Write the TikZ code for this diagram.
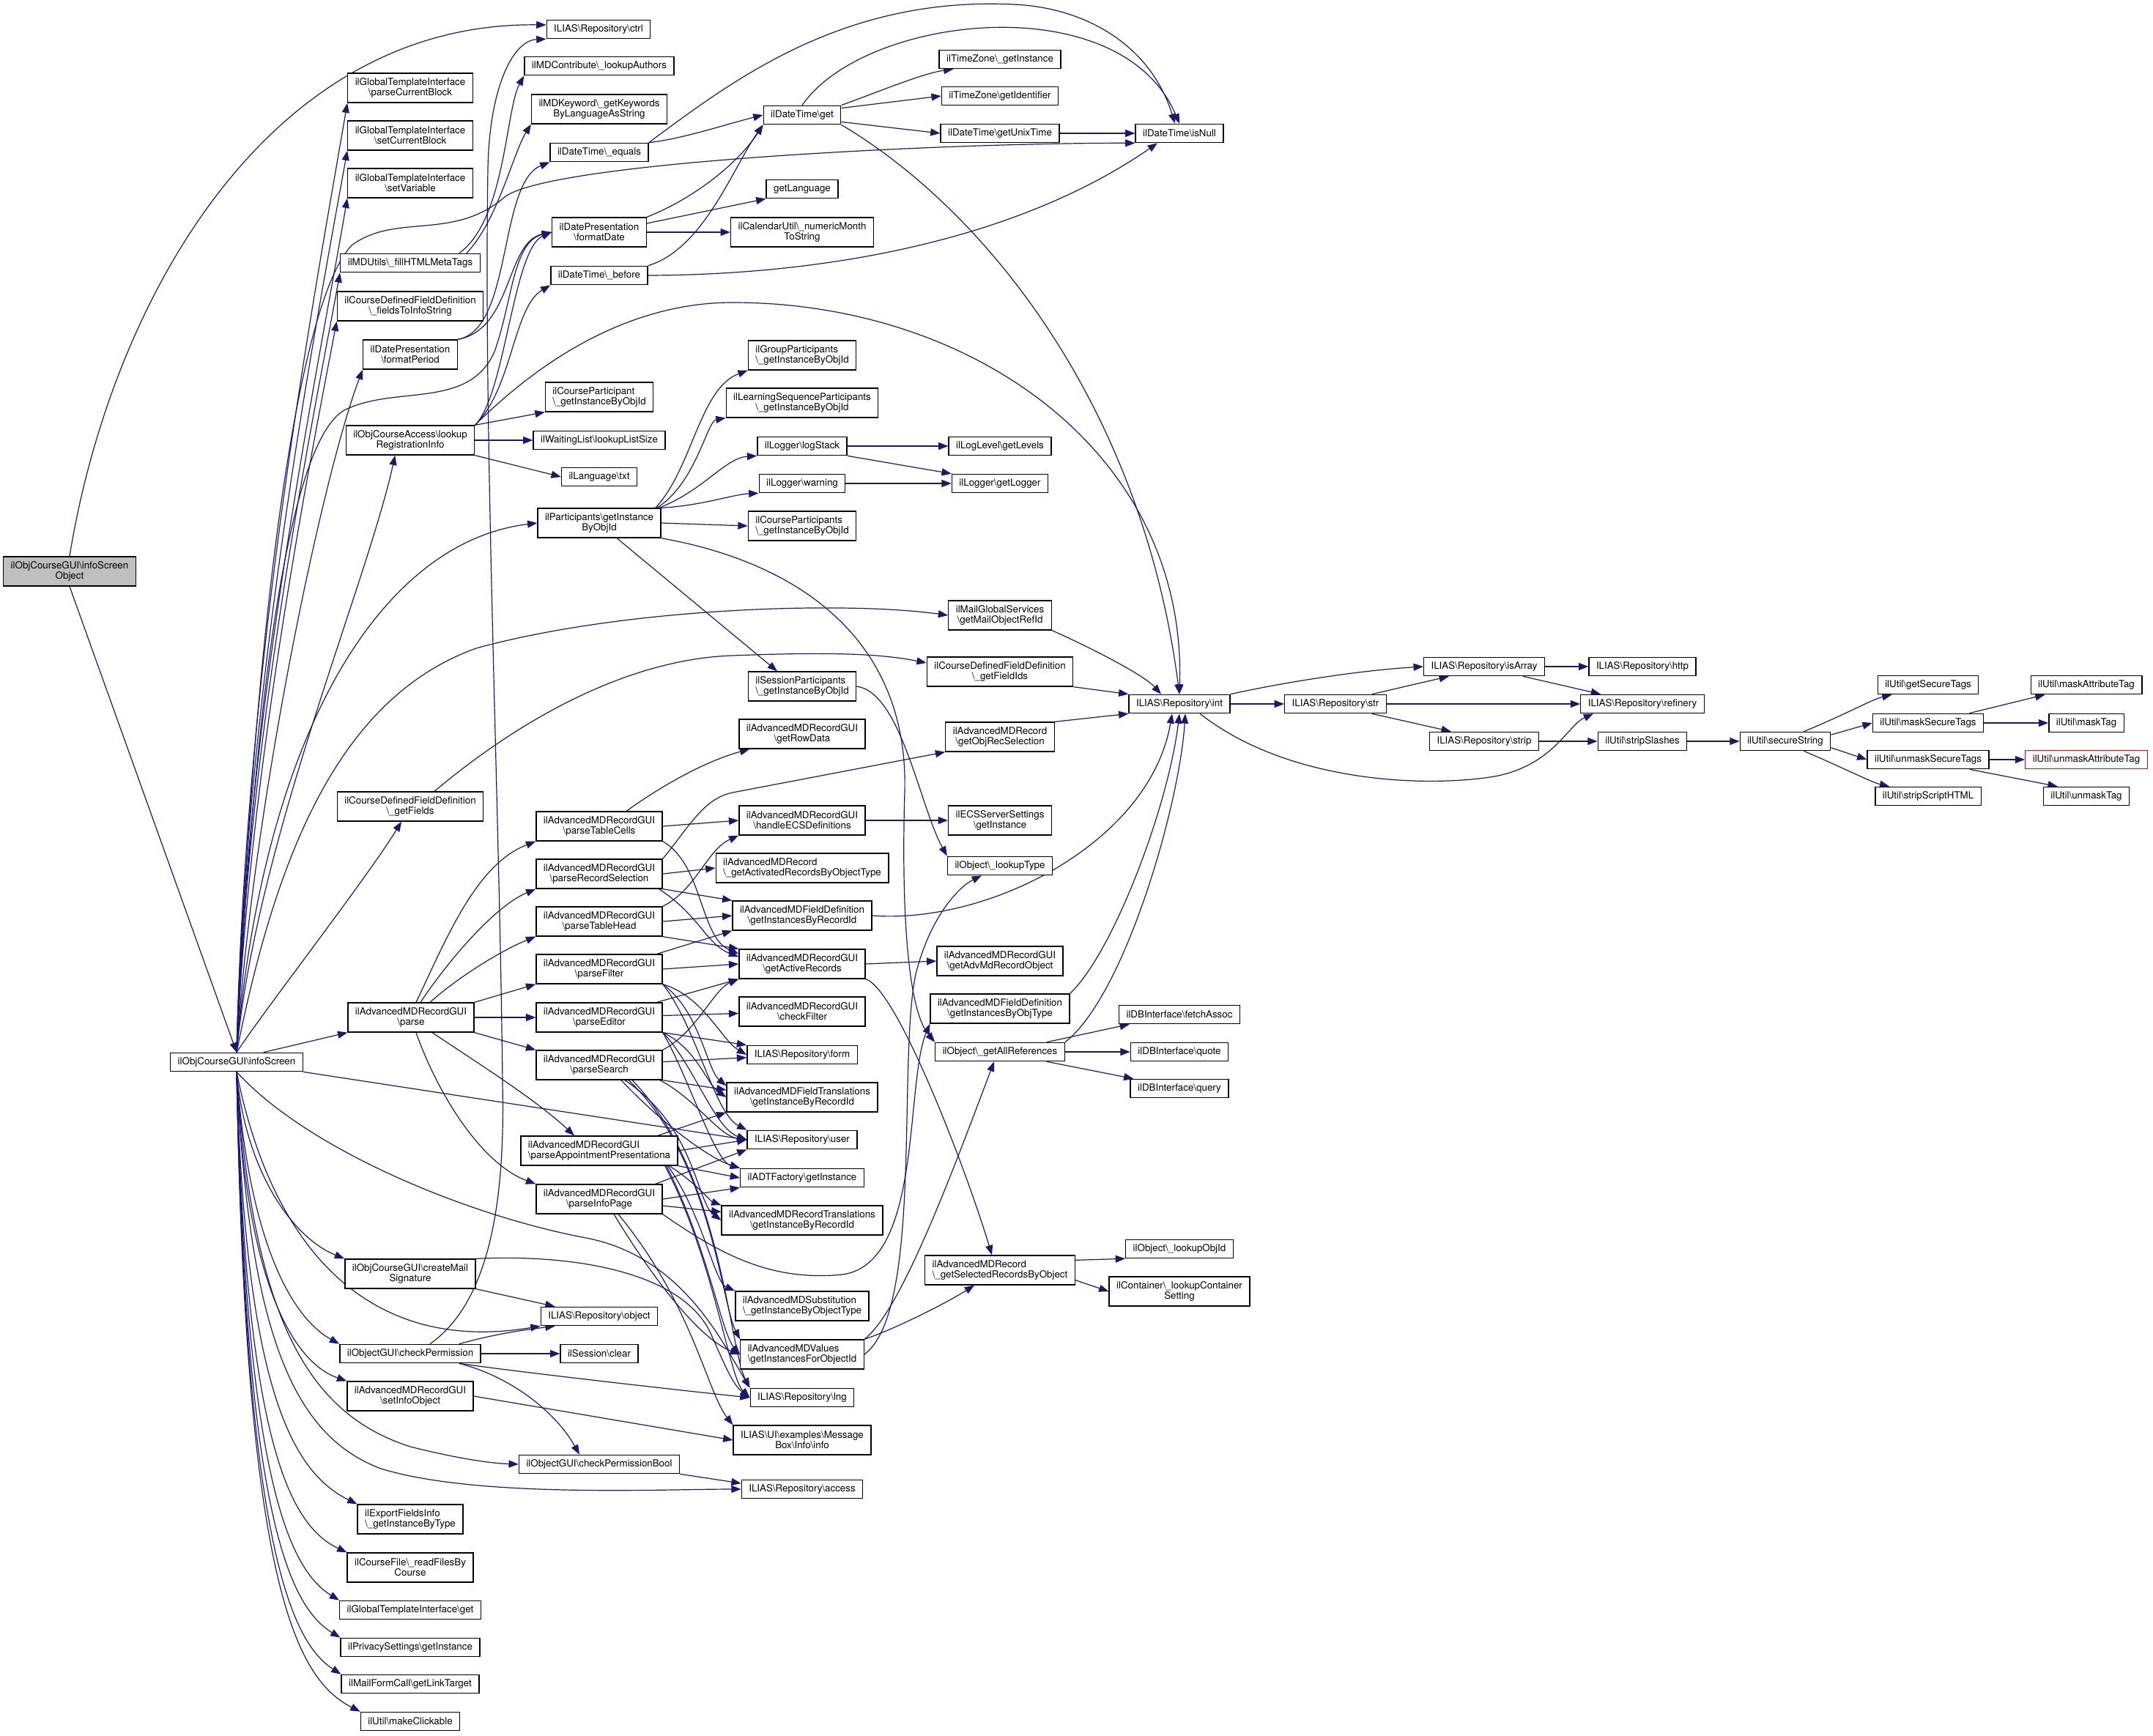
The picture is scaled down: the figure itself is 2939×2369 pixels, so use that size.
\documentclass[tikz,border=0pt]{standalone}
\usepackage{fontspec}
\setmainfont{TeX Gyre Heros}
\usetikzlibrary{arrows.meta,calc}
\newcommand{\bsl}{\textbackslash}
\definecolor{edgeblue}{HTML}{191970}
\definecolor{nodegrey}{HTML}{BFBFBF}
\pgfdeclarelayer{bg}
\pgfsetlayers{bg,main}
\tikzset{
 fn/.style={draw=black, line width=1pt, fill=white, font=\fontsize{10}{10.5}\selectfont, inner xsep=7.5pt, inner ysep=1pt, minimum height=19pt, align=center},
 fn2/.style={fn, minimum height=30pt},
 fnl/.style={fn2, align=left},
 e/.style={draw=edgeblue, line width=0.9pt, -{Triangle[length=10pt,width=7.5pt]}},
}
\begin{document}
\begin{tikzpicture}[x=0.75pt,y=-0.75pt]
\useasboundingbox (0,0) rectangle (2939,2369);
% ---------------- nodes ----------------
\node[fn2,fill=nodegrey] (A) at (95,780) {ilObjCourseGUI\bsl infoScreen\\Object};
\node[fn] (B) at (323,1450) {ilObjCourseGUI\bsl infoScreen};
\node[fn] (ctrl) at (817,40) {ILIAS\bsl Repository\bsl ctrl};
\node[fn] (mdc) at (818,90) {ilMDContribute\bsl\_lookupAuthors};
\node[fn2] (gpc) at (560,120) {ilGlobalTemplateInterface\\\bsl parseCurrentBlock};
\node[fn2] (gsc) at (560,185) {ilGlobalTemplateInterface\\\bsl setCurrentBlock};
\node[fn2] (gsv) at (560,250) {ilGlobalTemplateInterface\\\bsl setVariable};
\node[fn2] (mdk) at (818,149) {ilMDKeyword\bsl\_getKeywords\\ByLanguageAsString};
\node[fn] (dteq) at (818,208) {ilDateTime\bsl\_equals};
\node[fn2] (fd) at (818,317) {ilDatePresentation\\\bsl formatDate};
\node[fn] (dtb) at (818,376) {ilDateTime\bsl\_before};
\node[fn] (mdu) at (560,359) {ilMDUtils\bsl\_fillHTMLMetaTags};
\node[fn2] (fts) at (560,418) {ilCourseDefinedFieldDefinition\\\bsl\_fieldsToInfoString};
\node[fn2] (fp) at (560,484) {ilDatePresentation\\\bsl formatPeriod};
\node[fnl] (cp1) at (818,542) {ilCourseParticipant\\\bsl\_getInstanceByObjId};
\node[fn2] (lri) at (560,601) {ilObjCourseAccess\bsl lookup\\RegistrationInfo};
\node[fn] (wl) at (818,601) {ilWaitingList\bsl lookupListSize};
\node[fn] (lt) at (818,651) {ilLanguage\bsl txt};
\node[fn2] (pgi) at (818,714) {ilParticipants\bsl getInstance\\ByObjId};
\node[fn] (dtg) at (1095,157) {ilDateTime\bsl get};
\node[fn] (tzi) at (1365,81) {ilTimeZone\bsl\_getInstance};
\node[fn] (tzid) at (1365,131) {ilTimeZone\bsl getIdentifier};
\node[fn] (ut) at (1365,182) {ilDateTime\bsl getUnixTime};
\node[fn] (isn) at (1610,182) {ilDateTime\bsl isNull};
\node[fn] (gl) at (1095,258) {getLanguage};
\node[fn2] (cu) at (1095,317) {ilCalendarUtil\bsl\_numericMonth\\ToString};
\node[fnl] (grp) at (1095,485) {ilGroupParticipants\\\bsl\_getInstanceByObjId};
\node[fn2] (lsp) at (1095,550) {ilLearningSequenceParticipants\\\bsl\_getInstanceByObjId};
\node[fn] (ls) at (1095,609) {ilLogger\bsl logStack};
\node[fn] (llv) at (1365,609) {ilLogLevel\bsl getLevels};
\node[fn] (lw) at (1095,660) {ilLogger\bsl warning};
\node[fn] (lg) at (1365,660) {ilLogger\bsl getLogger};
\node[fnl] (csp) at (1095,718) {ilCourseParticipants\\\bsl\_getInstanceByObjId};
\node[fn2] (mgs) at (1365,840) {ilMailGlobalServices\\\bsl getMailObjectRefId};
\node[fnl] (ssp) at (1095,937) {ilSessionParticipants\\\bsl\_getInstanceByObjId};
\node[fn2] (gfi) at (1365,917) {ilCourseDefinedFieldDefinition\\\bsl\_getFieldIds};
\node[fn] (int) at (1610,961) {ILIAS\bsl Repository\bsl int};
\node[fn] (str) at (1823,961) {ILIAS\bsl Repository\bsl str};
\node[fn] (isa) at (2026,910) {ILIAS\bsl Repository\bsl isArray};
\node[fn] (http) at (2242,910) {ILIAS\bsl Repository\bsl http};
\node[fn] (ref) at (2242,961) {ILIAS\bsl Repository\bsl refinery};
\node[fn] (strip) at (2026,1012) {ILIAS\bsl Repository\bsl strip};
\node[fn] (ss) at (2242,1012) {ilUtil\bsl stripSlashes};
\node[fn] (sec) at (2437,1012) {ilUtil\bsl secureString};
\node[fn] (gst) at (2632,935) {ilUtil\bsl getSecureTags};
\node[fn] (mst) at (2632,987) {ilUtil\bsl maskSecureTags};
\node[fn] (ust) at (2632,1037) {ilUtil\bsl unmaskSecureTags};
\node[fn] (ssh) at (2632,1087) {ilUtil\bsl stripScriptHTML};
\node[fn] (mat) at (2848,935) {ilUtil\bsl maskAttributeTag};
\node[fn] (mt) at (2848,987) {ilUtil\bsl maskTag};
\node[fn,draw=red] (uat) at (2848,1037) {ilUtil\bsl unmaskAttributeTag};
\node[fn] (umt) at (2848,1087) {ilUtil\bsl unmaskTag};
\node[fn2] (grd) at (1095,1002) {ilAdvancedMDRecordGUI\\\bsl getRowData};
\node[fn2] (gors) at (1365,1006) {ilAdvancedMDRecord\\\bsl getObjRecSelection};
\node[fn2] (ptc) at (818,1128) {ilAdvancedMDRecordGUI\\\bsl parseTableCells};
\node[fn2] (hecs) at (1095,1120) {ilAdvancedMDRecordGUI\\\bsl handleECSDefinitions};
\node[fn2] (ecs) at (1365,1120) {ilECSServerSettings\\\bsl getInstance};
\node[fnl] (gar) at (1095,1185) {ilAdvancedMDRecord\\\bsl\_getActivatedRecordsByObjectType};
\node[fn] (lty) at (1365,1182) {ilObject\bsl\_lookupType};
\node[fn2] (prs) at (818,1193) {ilAdvancedMDRecordGUI\\\bsl parseRecordSelection};
\node[fn2] (gfields) at (560,1101) {ilCourseDefinedFieldDefinition\\\bsl\_getFields};
\node[fn2] (fdr) at (1095,1250) {ilAdvancedMDFieldDefinition\\\bsl getInstancesByRecordId};
\node[fn2] (pth) at (818,1258) {ilAdvancedMDRecordGUI\\\bsl parseTableHead};
\node[fn2] (gac) at (1095,1316) {ilAdvancedMDRecordGUI\\\bsl getActiveRecords};
\node[fn2] (gamro) at (1365,1312) {ilAdvancedMDRecordGUI\\\bsl getAdvMdRecordObject};
\node[fn2] (pf) at (818,1323) {ilAdvancedMDRecordGUI\\\bsl parseFilter};
\node[fn2] (cf) at (1095,1381) {ilAdvancedMDRecordGUI\\\bsl checkFilter};
\node[fn2] (fdo) at (1365,1377) {ilAdvancedMDFieldDefinition\\\bsl getInstancesByObjType};
\node[fn] (fdb) at (1610,1385) {ilDBInterface\bsl fetchAssoc};
\node[fn2] (pe) at (818,1389) {ilAdvancedMDRecordGUI\\\bsl parseEditor};
\node[fn2] (parse) at (561,1389) {ilAdvancedMDRecordGUI\\\bsl parse};
\node[fn] (form) at (1095,1440) {ILIAS\bsl Repository\bsl form};
\node[fn] (gaR) at (1365,1436) {ilObject\bsl\_getAllReferences};
\node[fn] (quote) at (1610,1436) {ilDBInterface\bsl quote};
\node[fn2] (ps) at (818,1454) {ilAdvancedMDRecordGUI\\\bsl parseSearch};
\node[fn] (query) at (1610,1486) {ilDBInterface\bsl query};
\node[fn2] (ftr) at (1095,1498) {ilAdvancedMDFieldTranslations\\\bsl getInstanceByRecordId};
\node[fn] (user) at (1095,1556) {ILIAS\bsl Repository\bsl user};
\node[fnl] (pap) at (818,1571) {ilAdvancedMDRecordGUI\\\bsl parseAppointmentPresentationa};
\node[fn] (adt) at (1095,1608) {ilADTFactory\bsl getInstance};
\node[fn2] (pip) at (818,1637) {ilAdvancedMDRecordGUI\\\bsl parseInfoPage};
\node[fn2] (rtr) at (1095,1666) {ilAdvancedMDRecordTranslations\\\bsl getInstanceByRecordId};
\node[fn] (lobj) at (1610,1705) {ilObject\bsl\_lookupObjId};
\node[fnl] (gsr) at (1365,1734) {ilAdvancedMDRecord\\\bsl\_getSelectedRecordsByObject};
\node[fn2] (cms) at (560,1739) {ilObjCourseGUI\bsl createMail\\Signature};
\node[fn2] (lcs) at (1610,1763) {ilContainer\bsl\_lookupContainer\\Setting};
\node[fnl] (sub) at (1095,1783) {ilAdvancedMDSubstitution\\\bsl\_getInstanceByObjectType};
\node[fn] (obj) at (818,1797) {ILIAS\bsl Repository\bsl object};
\node[fn] (cpm) at (560,1848) {ilObjectGUI\bsl checkPermission};
\node[fn] (sclr) at (818,1848) {ilSession\bsl clear};
\node[fnl] (val) at (1095,1849) {ilAdvancedMDValues\\\bsl getInstancesForObjectId};
\node[fn2] (sio) at (560,1906) {ilAdvancedMDRecordGUI\\\bsl setInfoObject};
\node[fn] (lng) at (1095,1908) {ILIAS\bsl Repository\bsl lng};
\node[fn2] (info) at (1095,1966) {ILIAS\bsl UI\bsl examples\bsl Message\\Box\bsl Info\bsl info};
\node[fn] (cpb) at (818,1999) {ilObjectGUI\bsl checkPermissionBool};
\node[fn] (acc) at (1095,2033) {ILIAS\bsl Repository\bsl access};
\node[fnl] (efi) at (560,2074) {ilExportFieldsInfo\\\bsl\_getInstanceByType};
\node[fn2] (cfr) at (560,2140) {ilCourseFile\bsl\_readFilesBy\\Course};
\node[fn] (gtg) at (560,2198) {ilGlobalTemplateInterface\bsl get};
\node[fn] (pri) at (560,2249) {ilPrivacySettings\bsl getInstance};
\node[fn] (mfc) at (560,2299) {ilMailFormCall\bsl getLinkTarget};
\node[fn] (mkc) at (560,2350) {ilUtil\bsl makeClickable};
% ---------------- edges ----------------
\begin{pgfonlayer}{bg}
\draw[e] (A.north) .. controls (150,420) and (360,30) .. ($(ctrl.west)+(0,-6)$);
\draw[e] (A.south) -- (B.north);
% B upward
\draw[e] (B.north) .. controls (335,900) and (430,400) .. (gpc.south west);
\draw[e] (B.north) .. controls (335,950) and (430,450) .. (gsc.south west);
\draw[e] (B.north) .. controls (335,980) and (435,500) .. (gsv.south west);
\draw[e] (B.north) .. controls (338,1000) and (430,560) .. (mdu.south west);
\draw[e] (B.north) .. controls (340,1050) and (425,620) .. (fts.south west);
\draw[e] (B.north) .. controls (345,1100) and (440,650) .. (fp.south west);
\draw[e] (B.north) .. controls (350,1150) and (500,800) .. (lri.225);
\draw[e] (B.north) .. controls (360,1000) and (520,740) .. (pgi.west);
\draw[e] (B.north) .. controls (380,1150) and (470,950) .. (650,885) .. controls (850,830) and (1150,820) .. (mgs.west);
\draw[e] (B.north) .. controls (360,1380) and (500,1200) .. (gfields.240);
\draw[e] (B.20) -- (parse.south west);
\draw[e] (B.north) .. controls (345,900) and (400,420) .. (480,335) .. controls (540,290) and (620,330) .. (690,268) .. controls (760,220) and (1300,195) .. (isn.south west);
\draw[e] (B.north) .. controls (350,900) and (400,600) .. (470,560) .. controls (540,525) and (640,560) .. (675,480) .. controls (700,410) and (700,330) .. (fd.west);
% B downward
\draw[e] (B.south east) -- (user.west);
\draw[e] (B.south) .. controls (335,1600) and (400,1690) .. (cms.north west);
\draw[e] (B.south) .. controls (370,1700) and (500,1850) .. (obj.south west);
\draw[e] (B.south) .. controls (340,1700) and (400,1800) .. (cpm.north west);
\draw[e] (B.south) .. controls (335,1750) and (400,1860) .. (sio.north west);
\draw[e] (B.south) .. controls (345,1800) and (420,1930) .. (560,1975) .. controls (640,1995) and (680,1998) .. (cpb.west);
\draw[e] (B.south) .. controls (340,1820) and (400,1960) .. (520,2005) .. controls (650,2045) and (900,2033) .. (acc.west);
\draw[e] (B.south) .. controls (335,1900) and (400,2010) .. (efi.north west);
\draw[e] (B.south) .. controls (335,1950) and (390,2080) .. (cfr.north west);
\draw[e] (B.south) .. controls (335,2000) and (390,2140) .. (gtg.north west);
\draw[e] (B.south) .. controls (335,2050) and (390,2190) .. (pri.north west);
\draw[e] (B.south) .. controls (335,2100) and (395,2240) .. (mfc.north west);
\draw[e] (B.south) .. controls (335,2150) and (400,2290) .. (mkc.north west);
\draw[e] (B.south) .. controls (420,1570) and (640,1660) .. (800,1690) .. controls (930,1715) and (985,1830) .. (lng.north west);
% mdu
\draw[e] ($(mdu.north east)+(-29,0)$) .. controls (690,300) and (690,150) .. (mdc.south west);
\draw[e] ($(mdu.north east)+(-19,0)$) .. controls (680,300) and (700,210) .. (mdk.south west);
% fp
\draw[e] (fp.north east) .. controls (700,450) and (690,330) .. (fd.west);
\draw[e] (fp.north east) .. controls (700,450) and (680,250) .. (dteq.south west);
% lri
\draw[e] (lri.north east) .. controls (690,540) and (700,340) .. (fd.west);
\draw[e] (lri.north east) .. controls (700,530) and (700,420) .. (dtb.south west);
\draw[e] (lri.north east) .. controls (760,470) and (880,413) .. (1000,413) .. controls (1330,413) and (1620,620) .. (int.north);
\draw[e] (lri.north east) -- (cp1.south west);
\draw[e] (lri) -- (wl);
\draw[e] (lri.south east) -- (lt.west);
% pgi
\draw[e] ($(pgi.north east)+(-8,0)$) .. controls (945,640) and (955,530) .. (grp.south west);
\draw[e] ($(pgi.north east)+(-6,0)$) .. controls (950,660) and (965,575) .. (lsp.south west);
\draw[e] ($(pgi.north east)+(-3,0)$) .. controls (960,670) and (990,625) .. (ls.south west);
\draw[e] (pgi.north east) .. controls (960,690) and (1000,675) .. (lw.south west);
\draw[e] (pgi.east) -- (csp.west);
\draw[e] ($(pgi.south)+(24,0)$) -- ($(ssp.north)+(-34,0)$);
\draw[e] (pgi.south east) .. controls (1100,770) and (1240,880) .. (1235,1080) .. controls (1230,1250) and (1240,1380) .. (gaR.north west);
% dtg
\draw[e] (dtg.north east) .. controls (1200,125) and (1260,100) .. ($(tzi.south west)+(20,0)$);
\draw[e] (dtg.10) -- (tzid.west);
\draw[e] (dtg.-10) -- (ut.west);
\draw[e] (dtg.north) .. controls (1180,20) and (1530,-20) .. (isn.north);
\draw[e] (dtg.south east) .. controls (1350,290) and (1560,560) .. (int.north);
\draw[e] (dteq.north east) .. controls (930,190) and (990,170) .. (dtg.west);
\draw[e] (dteq.north east) .. controls (1000,110) and (1150,-5) .. (1383,6) .. controls (1480,10) and (1570,60) .. ($(isn.north)+(-6,0)$);
\draw[e] (fd.north east) .. controls (950,270) and (1010,220) .. (dtg.south west);
\draw[e] ($(fd.east)+(0,-12)$) -- (gl.south west);
\draw[e] (fd) -- (cu);
\draw[e] (dtb.north east) .. controls (960,340) and (1000,230) .. (dtg.south west);
\draw[e] (dtb.east) .. controls (1150,375) and (1400,320) .. ($(isn.south)+(-30,0)$);
\draw[e] (ut) -- (isn);
\draw[e] (ls) -- (llv);
\draw[e] (ls.south east) -- (lg.north west);
\draw[e] (lw) -- (lg);
\draw[e] (ssp.east) .. controls (1230,945) and (1255,1100) .. (lty.north west);
% into int
\draw[e] (mgs.south east) .. controls (1480,880) and (1560,920) .. ($(int.north)+(-25,0)$);
\draw[e] (gfi.south east) -- (int.north west);
\draw[e] (gors.north east) -- (int.south west);
\draw[e] (fdr.east) .. controls (1350,1262) and (1570,1150) .. ($(int.south)+(-10,0)$);
\draw[e] (fdo.north east) .. controls (1520,1300) and (1595,1100) .. (int.south);
\draw[e] (gaR.north east) .. controls (1535,1360) and (1610,1100) .. ($(int.south)+(8,0)$);
\draw[e] ($(gaR.north east)+(-25,0)$) -- ($(fdb.south west)+(15,0)$);
\draw[e] (gaR) -- (quote);
\draw[e] ($(gaR.south east)+(-25,0)$) -- ($(query.north west)+(5,0)$);
% right part
\draw[e] (int) -- (str);
\draw[e] (int.north east) .. controls (1760,930) and (1860,915) .. (isa.west);
\draw[e] ($(int.south)+(28,0)$) .. controls (1760,1070) and (1950,1075) .. (2040,1060) .. controls (2120,1045) and (2140,990) .. ($(ref.south west)+(18,0)$);
\draw[e] ($(str.north east)+(-20,0)$) -- ($(isa.south west)+(35,0)$);
\draw[e] (str) -- (ref);
\draw[e] ($(str.south east)+(-20,0)$) -- ($(strip.north west)+(30,0)$);
\draw[e] (isa) -- (http);
\draw[e] ($(isa.south east)+(-30,0)$) -- ($(ref.north west)+(28,0)$);
\draw[e] (strip) -- (ss);
\draw[e] (ss) -- (sec);
\draw[e] ($(sec.north east)+(-37,0)$) .. controls (2520,975) and (2555,955) .. ($(gst.south west)+(20,0)$);
\draw[e] (sec.8) -- (mst.west);
\draw[e] (sec.-8) -- (ust.west);
\draw[e] ($(sec.south east)+(-37,0)$) .. controls (2520,1050) and (2555,1068) .. ($(ssh.north west)+(20,0)$);
\draw[e] ($(mst.north east)+(-20,0)$) -- ($(mat.south west)+(20,0)$);
\draw[e] (mst) -- (mt);
\draw[e] (ust) -- (uat);
\draw[e] ($(ust.south east)+(-27,0)$) -- ($(umt.north west)+(20,0)$);
% gfields
\draw[e] ($(gfields.north)+(33,0)$) .. controls (700,990) and (850,900) .. (1000,895) .. controls (1130,890) and (1200,892) .. ($(gfi.west)+(0,-12)$);
% parse
\draw[e] ($(parse.north)+(7,0)$) .. controls (610,1280) and (650,1180) .. (ptc.south west);
\draw[e] ($(parse.north)+(13,0)$) .. controls (620,1300) and (680,1235) .. (prs.south west);
\draw[e] ($(parse.north)+(26,0)$) .. controls (630,1330) and (690,1295) .. (pth.south west);
\draw[e] (parse.north east) -- (pf.south west);
\draw[e] (parse) -- (pe);
\draw[e] (parse.south east) -- (ps.north west);
\draw[e] ($(parse.south)+(29,0)$) .. controls (650,1450) and (730,1500) .. ($(pap.north)+(-34,0)$);
\draw[e] ($(parse.south)+(7,0)$) .. controls (600,1500) and (660,1590) .. (pip.north west);
% cluster
\draw[e] ($(ptc.north)+(37,0)$) .. controls (900,1075) and (960,1040) .. ($(grd.south west)+(15,0)$);
\draw[e] (ptc.east) -- (hecs.west);
\draw[e] (ptc.south east) .. controls (960,1180) and (955,1280) .. ($(gac.west)+(0,-14)$);
\draw[e] (pth.north east) .. controls (950,1215) and (965,1160) .. (hecs.south west);
\draw[e] (prs.north east) .. controls (940,1130) and (960,1090) .. (1000,1082) -- (gors.south west);
\draw[e] (prs.east) -- (gar.west);
\draw[e] (prs.south east) -- (fdr.north west);
\draw[e] ($(prs.south east)+(-5,0)$) .. controls (955,1250) and (965,1290) .. ($(gac.west)+(0,-10)$);
\draw[e] (pth.east) -- (fdr.west);
\draw[e] (pth.south east) -- (gac.north west);
\draw[e] ($(pf.north east)+(-8,0)$) -- (fdr.south west);
\draw[e] (pf.east) -- (gac.west);
\draw[e] (pf.south east) .. controls (960,1360) and (985,1420) .. (form.west);
\draw[e] (pf.south east) .. controls (955,1380) and (965,1460) .. ($(ftr.north west)+(0,5)$);
\draw[e] (pf.south east) .. controls (950,1400) and (975,1520) .. (user.north west);
\draw[e] ($(pe.north east)+(-8,0)$) -- (gac.south west);
\draw[e] (pe) -- (cf);
\draw[e] (pe.south east) -- (form.north west);
\draw[e] (pe.south east) .. controls (950,1430) and (965,1480) .. (ftr.west);
\draw[e] (pe.south east) .. controls (945,1450) and (975,1540) .. (user.west);
\draw[e] (pe.south east) .. controls (940,1470) and (975,1585) .. (adt.north west);
\draw[e] (ps.north east) .. controls (950,1410) and (975,1350) .. (gac.south west);
\draw[e] (ps) -- (form);
\draw[e] (ps.south east) -- ($(ftr.west)+(0,-10)$);
\draw[e] ($(ps.south east)+(-4,0)$) .. controls (950,1500) and (980,1550) .. (user.west);
\draw[e] ($(ps.south)+(30,0)$) .. controls (900,1530) and (965,1580) .. (adt.north west);
\draw[e] ($(ps.south)+(35,0)$) .. controls (950,1540) and (950,1640) .. (rtr.west);
\draw[e] ($(ps.south)+(40,0)$) .. controls (970,1580) and (985,1780) .. (val.north west);
\draw[e] ($(ps.south)+(45,0)$) .. controls (985,1600) and (995,1840) .. (lng.north west);
\draw[e] ($(pap.north east)+(-28,0)$) -- (ftr.south west);
\draw[e] (pap.east) -- (user.west);
\draw[e] (pap.south east) -- (adt.west);
\draw[e] ($(pap.south east)+(-12,0)$) .. controls (950,1615) and (970,1640) .. (rtr.north west);
\draw[e] ($(pap.south east)+(-14,0)$) .. controls (960,1660) and (975,1750) .. (sub.north west);
\draw[e] ($(pap.south east)+(-16,0)$) .. controls (965,1700) and (985,1820) .. (val.west);
\draw[e] ($(pap.south east)+(-18,0)$) .. controls (975,1720) and (995,1880) .. (lng.west);
\draw[e] ($(pip.north east)+(-10,0)$) -- (user.south west);
\draw[e] (pip.east) -- (adt.south west);
\draw[e] (pip) -- (rtr);
\draw[e] (pip.south east) .. controls (980,1710) and (1050,1750) .. (1150,1740) .. controls (1260,1725) and (1235,1480) .. (fdo.south west);
\draw[e] ($(pip.south)+(20,0)$) .. controls (900,1760) and (960,1830) .. (val.west);
\draw[e] ($(pip.south)+(26,0)$) .. controls (945,1780) and (965,1900) .. (info.north west);
\draw[e] (hecs) -- (ecs);
\draw[e] (gac.east) -- (gamro.west);
\draw[e] (gac.south east) .. controls (1225,1350) and (1320,1600) .. ($(gsr.north)+(-11,0)$);
\draw[e] (val.north east) .. controls (1220,1815) and (1290,1780) .. ($(gsr.south)+(-35,0)$);
\draw[e] (val.north east) .. controls (1230,1790) and (1300,1600) .. ($(gaR.south)+(-8,0)$);
\draw[e] (val.east) .. controls (1260,1790) and (1225,1450) .. (1250,1330) .. controls (1270,1250) and (1310,1210) .. ($(lty.south)+(-25,0)$);
\draw[e] ($(gsr.north east)+(0,7)$) -- (lobj.south west);
\draw[e] ($(gsr.south east)+(0,-7)$) -- (lcs.west);
% bottom-left
\draw[e] (cms.south east) -- ($(obj.north west)+(20,0)$);
\draw[e] (cms.north east) .. controls (780,1712) and (930,1735) .. (970,1820) .. controls (990,1865) and (1000,1890) .. (lng.west);
\draw[e] ($(cpm.north)+(27,0)$) .. controls (665,1780) and (690,1650) .. (686,1480) .. controls (682,1100) and (660,600) .. (666,230) .. controls (668,120) and (700,55) .. (ctrl.south west);
\draw[e] ($(cpm.north east)+(-30,0)$) .. controls (680,1820) and (720,1815) .. ($(obj.south west)+(20,0)$);
\draw[e] (cpm) -- (sclr);
\draw[e] ($(cpm.south east)+(-30,0)$) .. controls (700,1872) and (900,1895) .. (lng.west);
\draw[e] ($(cpm.south east)+(-30,0)$) .. controls (700,1880) and (760,1930) .. ($(cpb.north)+(-27,0)$);
\draw[e] (sio.east) -- (info.west);
\draw[e] (cpb.south east) -- ($(acc.west)+(0,-8)$);
\end{pgfonlayer}
\end{tikzpicture}
\end{document}
